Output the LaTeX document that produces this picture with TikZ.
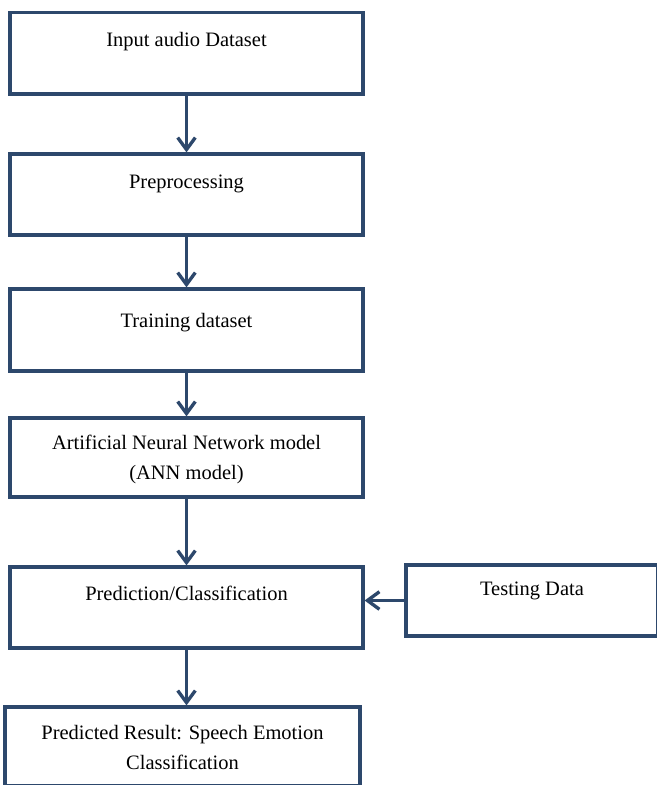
\documentclass[tikz,border=0pt]{standalone}
\usepackage{fontspec}
\setmainfont{Liberation Serif}
\usetikzlibrary{arrows.meta}
\definecolor{boxblue}{RGB}{45,72,108}

\begin{document}
\begin{tikzpicture}[x=0.625pt, y=-0.625pt]
    \tikzstyle{box}=[draw=boxblue, line width=2pt, inner sep=0pt, minimum width=220.6pt]
    \tikzstyle{txt}=[anchor=north, align=center, font=\fontsize{12.8}{18.5}\selectfont]
    \tikzstyle{flow}=[draw=boxblue, line width=2.1pt, -{Straight Barb[length=7.5pt,width=11pt]}]

    \useasboundingbox (0, 0) rectangle (656, 785);

    % main column
    \node (input) at (186.5, 53.25) [box, minimum height=50.9pt,
        label={[txt, yshift=-9.6pt]north:Input audio Dataset}] {};
    \node (prep) at (186.5, 194.5) [box, minimum height=50.6pt,
        label={[txt, yshift=-10.8pt]north:Preprocessing}] {};
    \node (train) at (186.5, 330) [box, minimum height=51.25pt,
        label={[txt, yshift=-12.8pt]north:Training dataset}] {};
    \node (ann) at (186.5, 457.5) [box, minimum height=49.4pt,
        label={[txt, yshift=-8.3pt]north:Artificial Neural Network model\\(ANN model)}] {};
    \node (pred) at (186.5, 607.5) [box, minimum height=50.6pt,
        label={[txt, yshift=-9.5pt]north:Prediction/Classification}] {};
    \node (result) at (182.5, 746.5) [box, minimum width=221.9pt, minimum height=49.4pt,
        label={[txt, yshift=-8.9pt]north:{Predicted Result: Speech Emotion\\Classification}}] {};

    % side input
    \node (test) at (532, 600.5) [box, minimum width=157.5pt, minimum height=44.4pt,
        label={[txt, yshift=-8pt]north:Testing Data}] {};

    \draw [flow] (input) -- (prep);
    \draw [flow] (prep) -- (train);
    \draw [flow] (train) -- (ann);
    \draw [flow] (ann) -- (pred);
    \draw [flow] (pred) -- (pred |- result.north);
    \draw [flow] (test.west) -- (test.west -| pred.east);

\end{tikzpicture}
\end{document}
